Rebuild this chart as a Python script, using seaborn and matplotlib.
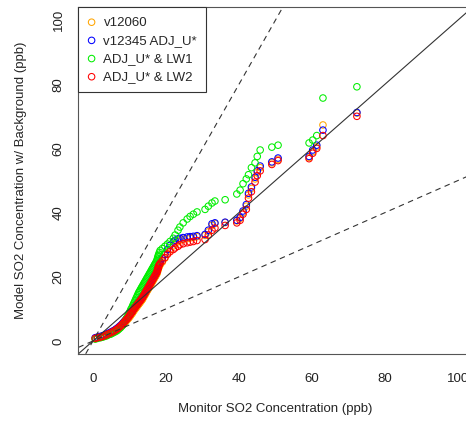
import pandas as pd
import seaborn as sns
import matplotlib.pyplot as plt

# sorted monitor values (Q-Q pairs), ppb
monitor = [
    0.6, 1.2, 2.0, 2.6, 3.1, 3.7, 4.2, 4.8, 5.3, 5.8,
    6.3, 6.7, 7.1, 7.5, 7.9, 8.2, 8.5, 8.8, 9.1, 9.4,
    9.7, 9.9, 10.2, 10.4, 10.7, 10.9, 11.1, 11.3, 11.5, 11.7,
    11.9, 12.1, 12.3, 12.5, 12.7, 12.9, 13.1, 13.3, 13.5, 13.7,
    13.9, 14.1, 14.3, 14.5, 14.7, 14.9, 15.1, 15.3, 15.5, 15.7,
    15.9, 16.1, 16.3, 16.5, 16.7, 16.9, 17.1, 17.3, 17.5, 17.6,
    17.7, 17.8, 17.9, 18.0, 18.2, 18.4,
    19.0, 19.7, 20.4, 21.1, 22.0, 22.5, 23.3, 23.8, 24.7, 25.8,
    26.6, 27.5, 28.5, 30.7, 31.6, 32.6, 33.4, 36.2, 39.4, 40.3,
    41.1, 42.0, 42.6, 43.4, 44.4, 45.0, 45.8, 49.0, 50.7, 59.2,
    60.2, 61.3, 63.0, 72.3,
]

v12060 = [
    0.7, 0.9, 1.1, 1.3, 1.5, 1.7, 2.0, 2.3, 2.6, 2.9,
    3.2, 3.5, 3.9, 4.3, 4.7, 5.0, 5.4, 5.8, 6.2, 6.6,
    7.0, 7.3, 7.7, 8.1, 8.5, 8.9, 9.3, 9.6, 9.9, 10.2,
    10.5, 10.8, 11.1, 11.4, 11.7, 12.0, 12.3, 12.6, 12.9, 13.3,
    13.7, 14.1, 14.5, 14.9, 15.3, 15.7, 16.1, 16.5, 16.9, 17.3,
    17.7, 18.1, 18.5, 18.9, 19.3, 19.7, 20.1, 20.5, 20.9, 21.3,
    21.7, 22.1, 22.5, 22.9, 23.3, 23.8,
    24.6, 25.8, 27.2, 28.4, 29.6, 30.4, 31.0, 31.4, 31.7, 31.9,
    32.1, 32.3, 32.5, 32.9, 34.0, 36.0, 36.6, 36.9, 37.4, 38.2,
    40.0, 42.0, 45.5, 47.5, 50.5, 52.5, 54.0, 55.5, 56.6, 57.2,
    59.0, 60.5, 67.3, 71.0,
]

v12345_adj = [
    1.0, 1.2, 1.4, 1.6, 1.8, 2.1, 2.4, 2.7, 3.0, 3.3,
    3.7, 4.0, 4.4, 4.8, 5.2, 5.6, 6.0, 6.4, 6.8, 7.2,
    7.6, 8.0, 8.4, 8.8, 9.2, 9.6, 10.0, 10.3, 10.6, 10.9,
    11.2, 11.5, 11.8, 12.1, 12.4, 12.8, 13.1, 13.4, 13.7, 14.1,
    14.5, 14.9, 15.3, 15.7, 16.1, 16.5, 16.9, 17.3, 17.7, 18.1,
    18.5, 18.9, 19.3, 19.7, 20.1, 20.5, 20.9, 21.3, 21.7, 22.1,
    22.5, 22.9, 23.3, 23.7, 24.1, 24.6,
    25.8, 27.0, 28.5, 29.8, 30.8, 31.4, 31.8, 32.0, 32.2, 32.4,
    32.5, 32.6, 32.8, 33.2, 34.5, 36.5, 36.8, 37.0, 37.6, 38.5,
    40.5, 42.5, 46.0, 48.0, 51.0, 53.0, 54.5, 55.8, 57.0, 57.5,
    59.5, 61.0, 65.7, 71.2,
]

adj_lw1 = [
    0.6, 0.8, 1.0, 1.2, 1.4, 1.6, 1.9, 2.1, 2.4, 2.7,
    3.0, 3.3, 3.7, 4.1, 4.6, 5.1, 5.7, 6.3, 6.9, 7.5,
    8.1, 8.7, 9.3, 9.9, 10.5, 11.0, 11.5, 12.0, 12.5, 13.0,
    13.5, 14.0, 14.5, 15.0, 15.4, 15.8, 16.2, 16.6, 17.0, 17.4,
    17.8, 18.2, 18.6, 19.0, 19.4, 19.8, 20.2, 20.6, 21.0, 21.4,
    21.8, 22.2, 22.6, 23.0, 23.4, 23.8, 24.2, 24.6, 25.0, 25.4,
    25.8, 26.2, 26.6, 27.0, 27.6, 28.2,
    28.8, 29.5, 30.2, 31.0, 32.0, 33.0, 34.5, 35.5, 36.8, 38.0,
    38.8, 39.5, 40.2, 41.0, 42.0, 43.0, 43.6, 44.0, 45.8, 47.0,
    49.0, 50.5, 51.8, 54.0, 55.5, 57.5, 59.5, 60.4, 61.0, 61.7,
    62.6, 64.0, 75.7, 79.2,
]

adj_lw2 = [
    0.8, 1.0, 1.2, 1.4, 1.6, 1.9, 2.2, 2.5, 2.8, 3.1,
    3.5, 3.8, 4.2, 4.6, 5.0, 5.4, 5.8, 6.2, 6.6, 7.0,
    7.4, 7.8, 8.2, 8.6, 9.0, 9.4, 9.8, 10.1, 10.4, 10.7,
    11.0, 11.3, 11.6, 11.9, 12.2, 12.5, 12.8, 13.1, 13.4, 13.8,
    14.2, 14.6, 15.0, 15.4, 15.8, 16.2, 16.6, 17.0, 17.4, 17.8,
    18.2, 18.6, 19.0, 19.4, 19.8, 20.2, 20.6, 21.0, 21.4, 21.8,
    22.2, 22.6, 23.0, 23.4, 23.8, 24.2,
    25.0, 26.0, 27.0, 27.8, 28.5, 29.0, 29.5, 30.0, 30.3, 30.6,
    30.8, 31.0, 31.3, 31.6, 33.0, 34.5, 35.2, 36.0, 36.8, 37.6,
    39.5, 41.0, 44.5, 46.5, 49.5, 51.5, 53.0, 55.0, 56.2, 56.8,
    58.5, 60.0, 64.0, 70.0,
]

series_labels = ["v12060", "v12345 ADJ_U*", "ADJ_U* & LW1", "ADJ_U* & LW2"]
series_colors = ["#FFA500", "#0000FF", "#00EE00", "#FF0000"]
ratio_slopes = [1, 2, 0.5]   # 1:1 solid, 2:1 and 1:2 dashed
ticks = [0, 20, 40, 60, 80, 100]

df = pd.DataFrame({"monitor": monitor, series_labels[0]: v12060,
                   series_labels[1]: v12345_adj, series_labels[2]: adj_lw1,
                   series_labels[3]: adj_lw2})
long = df.melt(id_vars="monitor", var_name="run", value_name="model")

sns.set_style("white")
plt.rcParams["font.family"] = ["Liberation Sans", "DejaVu Sans"]
plt.rcParams["font.size"] = 9.5

fig = plt.figure(figsize=(4.66, 4.22), dpi=100)
ax = fig.add_axes([78.4 / 466, (422 - 353.8) / 422, 394.2 / 466, 346.6 / 422])

for lab, col in zip(series_labels, series_colors):
    sns.scatterplot(data=long[long["run"] == lab], x="monitor", y="model",
                    color=col, facecolors="none", edgecolor=col,
                    s=22, linewidth=0.75, label=lab, ax=ax, legend=False)

for k in ratio_slopes:
    ax.axline((0, 0), slope=k, color="#333333", lw=0.8,
              linestyle="-" if k == 1 else (0, (5, 4)))

ax.set_xlim(-4, 104)
ax.set_ylim(-4, 104)
ax.set_xticks(ticks)
ax.set_yticks(ticks)
ax.tick_params(axis="x", length=5, width=0.8, pad=8.5, colors="#222222", labelsize=9.5)
ax.tick_params(axis="y", length=5, width=0.8, pad=5, colors="#222222",
               labelsize=9.5, labelrotation=90)
for t in ax.get_yticklabels():
    t.set_va("center")
for sp in ax.spines.values():
    sp.set_color("#555555")
    sp.set_linewidth(0.8)

ax.set_xlabel("Monitor SO2 Concentration (ppb)", fontsize=9.5)
ax.set_ylabel("Model SO2 Concentration w/ Background (ppb)", fontsize=9.5)
ax.xaxis.set_label_coords(0.5, -0.142)
ax.yaxis.set_label_coords(-0.130, 0.5)

leg = ax.legend(loc="upper left", borderaxespad=0, frameon=True, fancybox=False,
                edgecolor="#333333", framealpha=1, handlelength=0.6,
                handletextpad=0.6, borderpad=0.7, labelspacing=0.45, fontsize=9.5)
leg.get_frame().set_linewidth(0.8)

fig.savefig("out.png", dpi=100)
